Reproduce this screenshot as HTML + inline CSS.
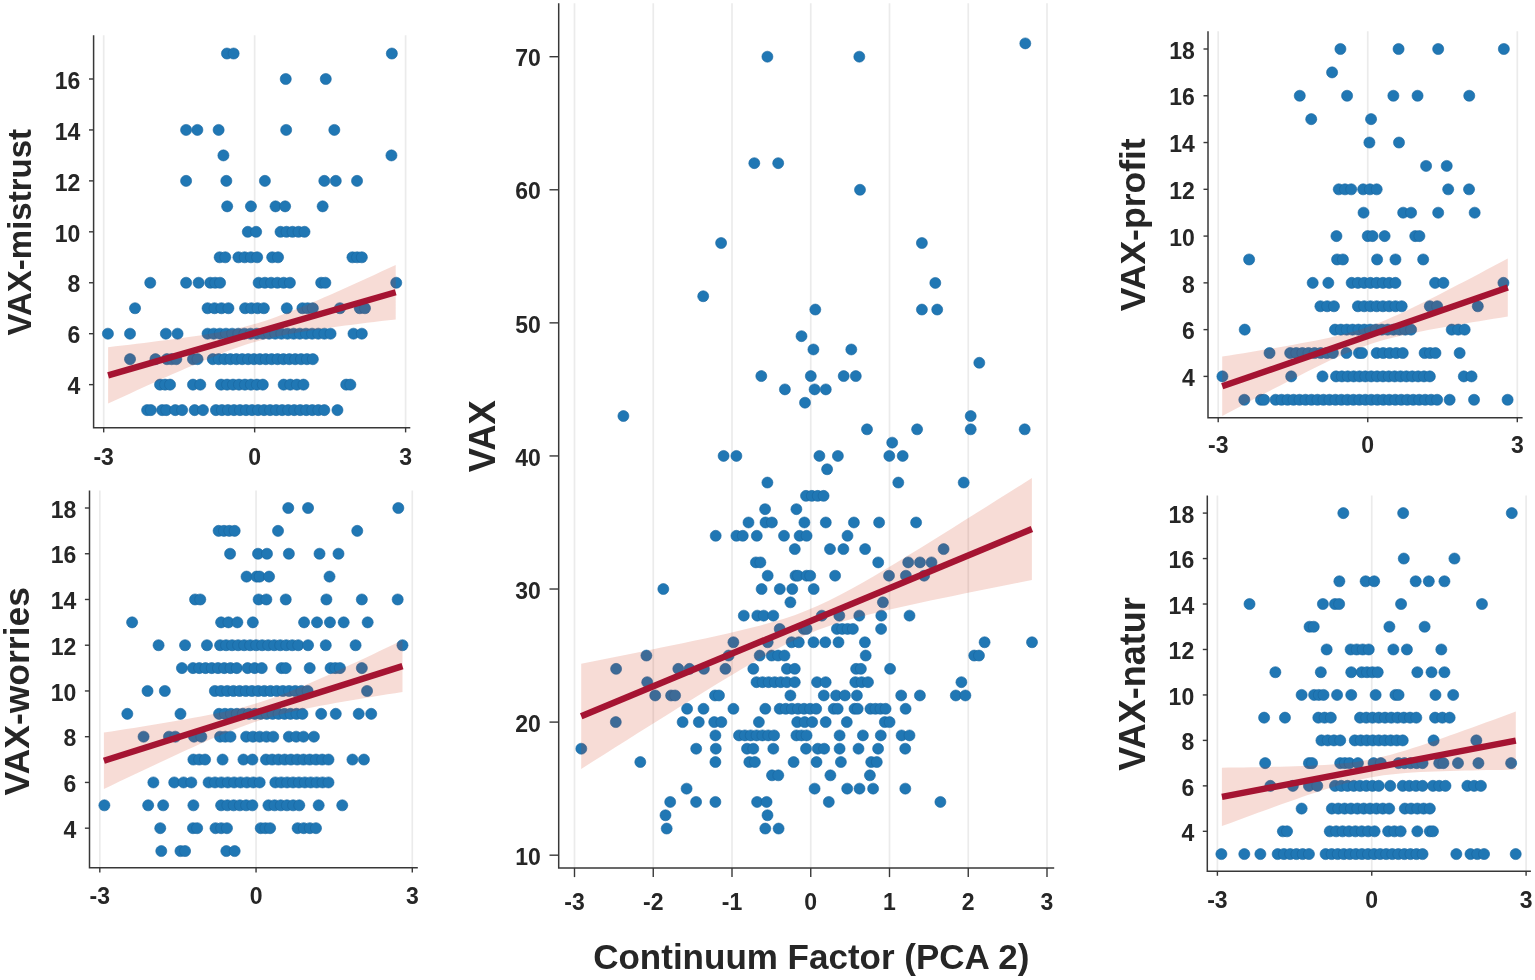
<!DOCTYPE html>
<html><head><meta charset="utf-8"><title>Continuum Factor scatter plots</title>
<style>html,body{margin:0;padding:0;background:#fff;}svg{display:block;}</style>
</head><body>
<svg width="1535" height="980" viewBox="0 0 1535 980">
<rect width="1535" height="980" fill="#fff"/>
<g font-family="'Liberation Sans', Arial, Helvetica, sans-serif" font-weight="bold" fill="#262626">

<line x1="103.69" y1="35.3" x2="103.69" y2="427.8" stroke="#ebebeb" stroke-width="1.7"/>
<line x1="254.65" y1="35.3" x2="254.65" y2="427.8" stroke="#ebebeb" stroke-width="1.7"/>
<line x1="405.61" y1="35.3" x2="405.61" y2="427.8" stroke="#ebebeb" stroke-width="1.7"/>
<g fill="#2077b4" stroke="#1a66a0" stroke-width="0.6">
<circle cx="226.96" cy="53.53" r="5.55"/>
<circle cx="233.63" cy="53.53" r="5.55"/>
<circle cx="391.85" cy="53.53" r="5.55"/>
<circle cx="285.74" cy="79" r="5.55"/>
<circle cx="325.77" cy="79" r="5.55"/>
<circle cx="186.1" cy="129.94" r="5.55"/>
<circle cx="197.36" cy="129.94" r="5.55"/>
<circle cx="218.62" cy="129.94" r="5.55"/>
<circle cx="286.16" cy="129.94" r="5.55"/>
<circle cx="334.32" cy="129.94" r="5.55"/>
<circle cx="223.41" cy="155.41" r="5.55"/>
<circle cx="391.44" cy="155.41" r="5.55"/>
<circle cx="186.1" cy="180.88" r="5.55"/>
<circle cx="226.33" cy="180.88" r="5.55"/>
<circle cx="264.9" cy="180.88" r="5.55"/>
<circle cx="324.31" cy="180.88" r="5.55"/>
<circle cx="335.78" cy="180.88" r="5.55"/>
<circle cx="357.04" cy="180.88" r="5.55"/>
<circle cx="227.17" cy="206.35" r="5.55"/>
<circle cx="250.93" cy="206.35" r="5.55"/>
<circle cx="275.53" cy="206.35" r="5.55"/>
<circle cx="285.12" cy="206.35" r="5.55"/>
<circle cx="322.64" cy="206.35" r="5.55"/>
<circle cx="247.8" cy="231.82" r="5.55"/>
<circle cx="256.14" cy="231.82" r="5.55"/>
<circle cx="280.53" cy="231.82" r="5.55"/>
<circle cx="286.53" cy="231.82" r="5.55"/>
<circle cx="292.52" cy="231.82" r="5.55"/>
<circle cx="298.51" cy="231.82" r="5.55"/>
<circle cx="304.51" cy="231.82" r="5.55"/>
<circle cx="219.66" cy="257.29" r="5.55"/>
<circle cx="225.29" cy="257.29" r="5.55"/>
<circle cx="238.42" cy="257.29" r="5.55"/>
<circle cx="244.68" cy="257.29" r="5.55"/>
<circle cx="250.93" cy="257.29" r="5.55"/>
<circle cx="257.18" cy="257.29" r="5.55"/>
<circle cx="272.19" cy="257.29" r="5.55"/>
<circle cx="278.03" cy="257.29" r="5.55"/>
<circle cx="352.45" cy="257.29" r="5.55"/>
<circle cx="357.14" cy="257.29" r="5.55"/>
<circle cx="361.83" cy="257.29" r="5.55"/>
<circle cx="150.24" cy="282.76" r="5.55"/>
<circle cx="186.1" cy="282.76" r="5.55"/>
<circle cx="198.61" cy="282.76" r="5.55"/>
<circle cx="210.28" cy="282.76" r="5.55"/>
<circle cx="215.18" cy="282.76" r="5.55"/>
<circle cx="220.08" cy="282.76" r="5.55"/>
<circle cx="258.64" cy="282.76" r="5.55"/>
<circle cx="264.9" cy="282.76" r="5.55"/>
<circle cx="271.15" cy="282.76" r="5.55"/>
<circle cx="277.41" cy="282.76" r="5.55"/>
<circle cx="283.66" cy="282.76" r="5.55"/>
<circle cx="289.91" cy="282.76" r="5.55"/>
<circle cx="321.18" cy="282.76" r="5.55"/>
<circle cx="325.35" cy="282.76" r="5.55"/>
<circle cx="396.23" cy="282.76" r="5.55"/>
<circle cx="135.03" cy="308.23" r="5.55"/>
<circle cx="207.57" cy="308.23" r="5.55"/>
<circle cx="214.52" cy="308.23" r="5.55"/>
<circle cx="221.47" cy="308.23" r="5.55"/>
<circle cx="228.42" cy="308.23" r="5.55"/>
<circle cx="245.09" cy="308.23" r="5.55"/>
<circle cx="251.35" cy="308.23" r="5.55"/>
<circle cx="257.6" cy="308.23" r="5.55"/>
<circle cx="263.86" cy="308.23" r="5.55"/>
<circle cx="286.79" cy="308.23" r="5.55"/>
<circle cx="302.42" cy="308.23" r="5.55"/>
<circle cx="307.63" cy="308.23" r="5.55"/>
<circle cx="312.84" cy="308.23" r="5.55"/>
<circle cx="339.94" cy="308.23" r="5.55"/>
<circle cx="359.75" cy="308.23" r="5.55"/>
<circle cx="364.96" cy="308.23" r="5.55"/>
<circle cx="107.92" cy="333.7" r="5.55"/>
<circle cx="130.02" cy="333.7" r="5.55"/>
<circle cx="165.88" cy="333.7" r="5.55"/>
<circle cx="177.55" cy="333.7" r="5.55"/>
<circle cx="207.57" cy="333.7" r="5.55"/>
<circle cx="213.72" cy="333.7" r="5.55"/>
<circle cx="219.87" cy="333.7" r="5.55"/>
<circle cx="226.02" cy="333.7" r="5.55"/>
<circle cx="232.17" cy="333.7" r="5.55"/>
<circle cx="238.32" cy="333.7" r="5.55"/>
<circle cx="244.47" cy="333.7" r="5.55"/>
<circle cx="250.62" cy="333.7" r="5.55"/>
<circle cx="256.77" cy="333.7" r="5.55"/>
<circle cx="262.92" cy="333.7" r="5.55"/>
<circle cx="269.07" cy="333.7" r="5.55"/>
<circle cx="275.22" cy="333.7" r="5.55"/>
<circle cx="281.37" cy="333.7" r="5.55"/>
<circle cx="287.52" cy="333.7" r="5.55"/>
<circle cx="293.67" cy="333.7" r="5.55"/>
<circle cx="299.82" cy="333.7" r="5.55"/>
<circle cx="305.97" cy="333.7" r="5.55"/>
<circle cx="312.11" cy="333.7" r="5.55"/>
<circle cx="318.26" cy="333.7" r="5.55"/>
<circle cx="324.41" cy="333.7" r="5.55"/>
<circle cx="330.56" cy="333.7" r="5.55"/>
<circle cx="353.49" cy="333.7" r="5.55"/>
<circle cx="361.83" cy="333.7" r="5.55"/>
<circle cx="130.02" cy="359.17" r="5.55"/>
<circle cx="155.45" cy="359.17" r="5.55"/>
<circle cx="166.92" cy="359.17" r="5.55"/>
<circle cx="171.61" cy="359.17" r="5.55"/>
<circle cx="176.3" cy="359.17" r="5.55"/>
<circle cx="192.98" cy="359.17" r="5.55"/>
<circle cx="197.56" cy="359.17" r="5.55"/>
<circle cx="212.78" cy="359.17" r="5.55"/>
<circle cx="218.67" cy="359.17" r="5.55"/>
<circle cx="224.55" cy="359.17" r="5.55"/>
<circle cx="230.44" cy="359.17" r="5.55"/>
<circle cx="236.33" cy="359.17" r="5.55"/>
<circle cx="242.21" cy="359.17" r="5.55"/>
<circle cx="248.1" cy="359.17" r="5.55"/>
<circle cx="253.98" cy="359.17" r="5.55"/>
<circle cx="259.87" cy="359.17" r="5.55"/>
<circle cx="265.76" cy="359.17" r="5.55"/>
<circle cx="271.64" cy="359.17" r="5.55"/>
<circle cx="277.53" cy="359.17" r="5.55"/>
<circle cx="283.41" cy="359.17" r="5.55"/>
<circle cx="289.3" cy="359.17" r="5.55"/>
<circle cx="295.19" cy="359.17" r="5.55"/>
<circle cx="301.07" cy="359.17" r="5.55"/>
<circle cx="306.96" cy="359.17" r="5.55"/>
<circle cx="312.84" cy="359.17" r="5.55"/>
<circle cx="160.04" cy="384.64" r="5.55"/>
<circle cx="165.04" cy="384.64" r="5.55"/>
<circle cx="170.05" cy="384.64" r="5.55"/>
<circle cx="192.98" cy="384.64" r="5.55"/>
<circle cx="200.27" cy="384.64" r="5.55"/>
<circle cx="221.12" cy="384.64" r="5.55"/>
<circle cx="227.08" cy="384.64" r="5.55"/>
<circle cx="233.03" cy="384.64" r="5.55"/>
<circle cx="238.99" cy="384.64" r="5.55"/>
<circle cx="244.94" cy="384.64" r="5.55"/>
<circle cx="250.9" cy="384.64" r="5.55"/>
<circle cx="256.86" cy="384.64" r="5.55"/>
<circle cx="262.81" cy="384.64" r="5.55"/>
<circle cx="283.66" cy="384.64" r="5.55"/>
<circle cx="290.26" cy="384.64" r="5.55"/>
<circle cx="296.86" cy="384.64" r="5.55"/>
<circle cx="303.46" cy="384.64" r="5.55"/>
<circle cx="346.2" cy="384.64" r="5.55"/>
<circle cx="350.37" cy="384.64" r="5.55"/>
<circle cx="147.12" cy="410.11" r="5.55"/>
<circle cx="150.87" cy="410.11" r="5.55"/>
<circle cx="162.13" cy="410.11" r="5.55"/>
<circle cx="166.29" cy="410.11" r="5.55"/>
<circle cx="175.26" cy="410.11" r="5.55"/>
<circle cx="182.14" cy="410.11" r="5.55"/>
<circle cx="194.65" cy="410.11" r="5.55"/>
<circle cx="202.98" cy="410.11" r="5.55"/>
<circle cx="215.91" cy="410.11" r="5.55"/>
<circle cx="221.93" cy="410.11" r="5.55"/>
<circle cx="227.95" cy="410.11" r="5.55"/>
<circle cx="233.98" cy="410.11" r="5.55"/>
<circle cx="240" cy="410.11" r="5.55"/>
<circle cx="246.02" cy="410.11" r="5.55"/>
<circle cx="252.04" cy="410.11" r="5.55"/>
<circle cx="258.06" cy="410.11" r="5.55"/>
<circle cx="264.09" cy="410.11" r="5.55"/>
<circle cx="270.11" cy="410.11" r="5.55"/>
<circle cx="276.13" cy="410.11" r="5.55"/>
<circle cx="282.15" cy="410.11" r="5.55"/>
<circle cx="288.18" cy="410.11" r="5.55"/>
<circle cx="294.2" cy="410.11" r="5.55"/>
<circle cx="300.22" cy="410.11" r="5.55"/>
<circle cx="306.24" cy="410.11" r="5.55"/>
<circle cx="312.27" cy="410.11" r="5.55"/>
<circle cx="318.29" cy="410.11" r="5.55"/>
<circle cx="324.31" cy="410.11" r="5.55"/>
<circle cx="337.44" cy="410.11" r="5.55"/>
</g>
<path d="M108.1,347.2 L115.29,346.36 L122.48,345.51 L129.67,344.65 L136.86,343.79 L144.05,342.91 L151.24,342.02 L158.43,341.11 L165.62,340.19 L172.81,339.24 L180,338.27 L187.19,337.27 L194.38,336.22 L201.57,335.13 L208.76,333.98 L215.95,332.75 L223.14,331.43 L230.33,330 L237.52,328.43 L244.71,326.69 L251.9,324.78 L259.09,322.69 L266.28,320.4 L273.47,317.94 L280.66,315.32 L287.85,312.57 L295.04,309.71 L302.23,306.76 L309.42,303.74 L316.61,300.67 L323.8,297.54 L330.99,294.38 L338.18,291.18 L345.37,287.97 L352.56,284.73 L359.75,281.47 L366.94,278.2 L374.13,274.91 L381.32,271.62 L388.51,268.31 L395.7,265 L395.7,319.4 L388.51,320.25 L381.32,321.1 L374.13,321.97 L366.94,322.84 L359.75,323.73 L352.56,324.63 L345.37,325.55 L338.18,326.5 L330.99,327.46 L323.8,328.46 L316.61,329.49 L309.42,330.58 L302.23,331.72 L295.04,332.93 L287.85,334.23 L280.66,335.64 L273.47,337.18 L266.28,338.88 L259.09,340.75 L251.9,342.82 L244.71,345.07 L237.52,347.49 L230.33,350.08 L223.14,352.81 L215.95,355.65 L208.76,358.58 L201.57,361.59 L194.38,364.66 L187.19,367.77 L180,370.93 L172.81,374.12 L165.62,377.33 L158.43,380.57 L151.24,383.82 L144.05,387.09 L136.86,390.37 L129.67,393.67 L122.48,396.97 L115.29,400.28 L108.1,403.6 Z" fill="rgb(205,50,10)" fill-opacity="0.17"/>
<line x1="108.1" y1="375.4" x2="395.7" y2="292.2" stroke="#a51432" stroke-width="6.4"/>
<path d="M93.6,35.3 V427.8 H410.3" fill="none" stroke="#383838" stroke-width="1.5"/>
<line x1="103.69" y1="427.8" x2="103.69" y2="432.4" stroke="#383838" stroke-width="1.4"/>
<text x="103.69" y="465.1" text-anchor="middle" font-size="23">-3</text>
<line x1="254.65" y1="427.8" x2="254.65" y2="432.4" stroke="#383838" stroke-width="1.4"/>
<text x="254.65" y="465.1" text-anchor="middle" font-size="23">0</text>
<line x1="405.61" y1="427.8" x2="405.61" y2="432.4" stroke="#383838" stroke-width="1.4"/>
<text x="405.61" y="465.1" text-anchor="middle" font-size="23">3</text>
<line x1="89" y1="384.64" x2="93.6" y2="384.64" stroke="#383838" stroke-width="1.4"/>
<text x="80.4" y="394.34" text-anchor="end" font-size="23">4</text>
<line x1="89" y1="333.7" x2="93.6" y2="333.7" stroke="#383838" stroke-width="1.4"/>
<text x="80.4" y="343.4" text-anchor="end" font-size="23">6</text>
<line x1="89" y1="282.76" x2="93.6" y2="282.76" stroke="#383838" stroke-width="1.4"/>
<text x="80.4" y="292.46" text-anchor="end" font-size="23">8</text>
<line x1="89" y1="231.82" x2="93.6" y2="231.82" stroke="#383838" stroke-width="1.4"/>
<text x="80.4" y="241.52" text-anchor="end" font-size="23">10</text>
<line x1="89" y1="180.88" x2="93.6" y2="180.88" stroke="#383838" stroke-width="1.4"/>
<text x="80.4" y="190.58" text-anchor="end" font-size="23">12</text>
<line x1="89" y1="129.94" x2="93.6" y2="129.94" stroke="#383838" stroke-width="1.4"/>
<text x="80.4" y="139.64" text-anchor="end" font-size="23">14</text>
<line x1="89" y1="79" x2="93.6" y2="79" stroke="#383838" stroke-width="1.4"/>
<text x="80.4" y="88.7" text-anchor="end" font-size="23">16</text>
<text transform="translate(31.4,232.3) rotate(-90)" text-anchor="middle" font-size="33.0">VAX-mistrust</text>
<line x1="99.81" y1="490.6" x2="99.81" y2="867.8" stroke="#ebebeb" stroke-width="1.7"/>
<line x1="256.05" y1="490.6" x2="256.05" y2="867.8" stroke="#ebebeb" stroke-width="1.7"/>
<line x1="412.29" y1="490.6" x2="412.29" y2="867.8" stroke="#ebebeb" stroke-width="1.7"/>
<g fill="#2077b4" stroke="#1a66a0" stroke-width="0.6">
<circle cx="288.25" cy="508" r="5.55"/>
<circle cx="308.05" cy="508" r="5.55"/>
<circle cx="398.31" cy="508" r="5.55"/>
<circle cx="218.62" cy="530.87" r="5.55"/>
<circle cx="223.97" cy="530.87" r="5.55"/>
<circle cx="229.32" cy="530.87" r="5.55"/>
<circle cx="234.67" cy="530.87" r="5.55"/>
<circle cx="278.03" cy="530.87" r="5.55"/>
<circle cx="357.25" cy="530.87" r="5.55"/>
<circle cx="230.08" cy="553.74" r="5.55"/>
<circle cx="258.02" cy="553.74" r="5.55"/>
<circle cx="266.98" cy="553.74" r="5.55"/>
<circle cx="288.87" cy="553.74" r="5.55"/>
<circle cx="319.52" cy="553.74" r="5.55"/>
<circle cx="338.49" cy="553.74" r="5.55"/>
<circle cx="246.55" cy="576.61" r="5.55"/>
<circle cx="256.56" cy="576.61" r="5.55"/>
<circle cx="259.69" cy="576.61" r="5.55"/>
<circle cx="269.07" cy="576.61" r="5.55"/>
<circle cx="329.52" cy="576.61" r="5.55"/>
<circle cx="195.06" cy="599.48" r="5.55"/>
<circle cx="200.27" cy="599.48" r="5.55"/>
<circle cx="258.64" cy="599.48" r="5.55"/>
<circle cx="266.36" cy="599.48" r="5.55"/>
<circle cx="285.74" cy="599.48" r="5.55"/>
<circle cx="326.39" cy="599.48" r="5.55"/>
<circle cx="361.83" cy="599.48" r="5.55"/>
<circle cx="397.69" cy="599.48" r="5.55"/>
<circle cx="132.11" cy="622.35" r="5.55"/>
<circle cx="221.12" cy="622.35" r="5.55"/>
<circle cx="228.42" cy="622.35" r="5.55"/>
<circle cx="237.38" cy="622.35" r="5.55"/>
<circle cx="252.81" cy="622.35" r="5.55"/>
<circle cx="304.09" cy="622.35" r="5.55"/>
<circle cx="317.01" cy="622.35" r="5.55"/>
<circle cx="329.94" cy="622.35" r="5.55"/>
<circle cx="343.7" cy="622.35" r="5.55"/>
<circle cx="367.67" cy="622.35" r="5.55"/>
<circle cx="158.58" cy="645.22" r="5.55"/>
<circle cx="185.06" cy="645.22" r="5.55"/>
<circle cx="206.94" cy="645.22" r="5.55"/>
<circle cx="220.08" cy="645.22" r="5.55"/>
<circle cx="226.09" cy="645.22" r="5.55"/>
<circle cx="232.1" cy="645.22" r="5.55"/>
<circle cx="238.12" cy="645.22" r="5.55"/>
<circle cx="244.13" cy="645.22" r="5.55"/>
<circle cx="250.15" cy="645.22" r="5.55"/>
<circle cx="256.16" cy="645.22" r="5.55"/>
<circle cx="262.17" cy="645.22" r="5.55"/>
<circle cx="268.19" cy="645.22" r="5.55"/>
<circle cx="274.2" cy="645.22" r="5.55"/>
<circle cx="280.21" cy="645.22" r="5.55"/>
<circle cx="286.23" cy="645.22" r="5.55"/>
<circle cx="292.24" cy="645.22" r="5.55"/>
<circle cx="298.25" cy="645.22" r="5.55"/>
<circle cx="308.05" cy="645.22" r="5.55"/>
<circle cx="325.77" cy="645.22" r="5.55"/>
<circle cx="355.58" cy="645.22" r="5.55"/>
<circle cx="402.48" cy="645.22" r="5.55"/>
<circle cx="181.93" cy="668.09" r="5.55"/>
<circle cx="192.98" cy="668.09" r="5.55"/>
<circle cx="199.23" cy="668.09" r="5.55"/>
<circle cx="205.49" cy="668.09" r="5.55"/>
<circle cx="211.74" cy="668.09" r="5.55"/>
<circle cx="217.99" cy="668.09" r="5.55"/>
<circle cx="224.25" cy="668.09" r="5.55"/>
<circle cx="230.5" cy="668.09" r="5.55"/>
<circle cx="236.76" cy="668.09" r="5.55"/>
<circle cx="247.6" cy="668.09" r="5.55"/>
<circle cx="254.68" cy="668.09" r="5.55"/>
<circle cx="261.77" cy="668.09" r="5.55"/>
<circle cx="281.57" cy="668.09" r="5.55"/>
<circle cx="285.74" cy="668.09" r="5.55"/>
<circle cx="309.72" cy="668.09" r="5.55"/>
<circle cx="330.56" cy="668.09" r="5.55"/>
<circle cx="335.25" cy="668.09" r="5.55"/>
<circle cx="339.94" cy="668.09" r="5.55"/>
<circle cx="361.83" cy="668.09" r="5.55"/>
<circle cx="147.53" cy="690.96" r="5.55"/>
<circle cx="164.84" cy="690.96" r="5.55"/>
<circle cx="214.87" cy="690.96" r="5.55"/>
<circle cx="221.05" cy="690.96" r="5.55"/>
<circle cx="227.24" cy="690.96" r="5.55"/>
<circle cx="233.42" cy="690.96" r="5.55"/>
<circle cx="239.6" cy="690.96" r="5.55"/>
<circle cx="245.79" cy="690.96" r="5.55"/>
<circle cx="251.97" cy="690.96" r="5.55"/>
<circle cx="258.16" cy="690.96" r="5.55"/>
<circle cx="264.34" cy="690.96" r="5.55"/>
<circle cx="270.53" cy="690.96" r="5.55"/>
<circle cx="276.71" cy="690.96" r="5.55"/>
<circle cx="282.9" cy="690.96" r="5.55"/>
<circle cx="289.08" cy="690.96" r="5.55"/>
<circle cx="295.26" cy="690.96" r="5.55"/>
<circle cx="301.45" cy="690.96" r="5.55"/>
<circle cx="307.63" cy="690.96" r="5.55"/>
<circle cx="367.05" cy="690.96" r="5.55"/>
<circle cx="127.31" cy="713.83" r="5.55"/>
<circle cx="180.47" cy="713.83" r="5.55"/>
<circle cx="219.04" cy="713.83" r="5.55"/>
<circle cx="224.99" cy="713.83" r="5.55"/>
<circle cx="230.95" cy="713.83" r="5.55"/>
<circle cx="236.9" cy="713.83" r="5.55"/>
<circle cx="242.86" cy="713.83" r="5.55"/>
<circle cx="248.82" cy="713.83" r="5.55"/>
<circle cx="254.77" cy="713.83" r="5.55"/>
<circle cx="260.73" cy="713.83" r="5.55"/>
<circle cx="266.68" cy="713.83" r="5.55"/>
<circle cx="272.64" cy="713.83" r="5.55"/>
<circle cx="278.6" cy="713.83" r="5.55"/>
<circle cx="284.55" cy="713.83" r="5.55"/>
<circle cx="290.51" cy="713.83" r="5.55"/>
<circle cx="296.47" cy="713.83" r="5.55"/>
<circle cx="302.42" cy="713.83" r="5.55"/>
<circle cx="321.18" cy="713.83" r="5.55"/>
<circle cx="335.78" cy="713.83" r="5.55"/>
<circle cx="358.71" cy="713.83" r="5.55"/>
<circle cx="371.21" cy="713.83" r="5.55"/>
<circle cx="143.57" cy="736.7" r="5.55"/>
<circle cx="169" cy="736.7" r="5.55"/>
<circle cx="175.26" cy="736.7" r="5.55"/>
<circle cx="194.02" cy="736.7" r="5.55"/>
<circle cx="201.32" cy="736.7" r="5.55"/>
<circle cx="220.08" cy="736.7" r="5.55"/>
<circle cx="225.29" cy="736.7" r="5.55"/>
<circle cx="230.5" cy="736.7" r="5.55"/>
<circle cx="246.14" cy="736.7" r="5.55"/>
<circle cx="252.91" cy="736.7" r="5.55"/>
<circle cx="259.69" cy="736.7" r="5.55"/>
<circle cx="266.46" cy="736.7" r="5.55"/>
<circle cx="273.24" cy="736.7" r="5.55"/>
<circle cx="288.87" cy="736.7" r="5.55"/>
<circle cx="296.17" cy="736.7" r="5.55"/>
<circle cx="303.46" cy="736.7" r="5.55"/>
<circle cx="313.89" cy="736.7" r="5.55"/>
<circle cx="193.39" cy="759.57" r="5.55"/>
<circle cx="199.23" cy="759.57" r="5.55"/>
<circle cx="205.07" cy="759.57" r="5.55"/>
<circle cx="222.58" cy="759.57" r="5.55"/>
<circle cx="243.43" cy="759.57" r="5.55"/>
<circle cx="252.39" cy="759.57" r="5.55"/>
<circle cx="265.94" cy="759.57" r="5.55"/>
<circle cx="272.19" cy="759.57" r="5.55"/>
<circle cx="278.45" cy="759.57" r="5.55"/>
<circle cx="284.7" cy="759.57" r="5.55"/>
<circle cx="290.96" cy="759.57" r="5.55"/>
<circle cx="297.21" cy="759.57" r="5.55"/>
<circle cx="303.46" cy="759.57" r="5.55"/>
<circle cx="309.72" cy="759.57" r="5.55"/>
<circle cx="315.97" cy="759.57" r="5.55"/>
<circle cx="322.23" cy="759.57" r="5.55"/>
<circle cx="328.48" cy="759.57" r="5.55"/>
<circle cx="352.45" cy="759.57" r="5.55"/>
<circle cx="363.92" cy="759.57" r="5.55"/>
<circle cx="153.37" cy="782.44" r="5.55"/>
<circle cx="174.22" cy="782.44" r="5.55"/>
<circle cx="183.6" cy="782.44" r="5.55"/>
<circle cx="191.31" cy="782.44" r="5.55"/>
<circle cx="208.61" cy="782.44" r="5.55"/>
<circle cx="215" cy="782.44" r="5.55"/>
<circle cx="221.38" cy="782.44" r="5.55"/>
<circle cx="227.77" cy="782.44" r="5.55"/>
<circle cx="234.15" cy="782.44" r="5.55"/>
<circle cx="240.53" cy="782.44" r="5.55"/>
<circle cx="246.92" cy="782.44" r="5.55"/>
<circle cx="253.3" cy="782.44" r="5.55"/>
<circle cx="259.69" cy="782.44" r="5.55"/>
<circle cx="275.32" cy="782.44" r="5.55"/>
<circle cx="281.23" cy="782.44" r="5.55"/>
<circle cx="287.13" cy="782.44" r="5.55"/>
<circle cx="293.04" cy="782.44" r="5.55"/>
<circle cx="298.95" cy="782.44" r="5.55"/>
<circle cx="304.85" cy="782.44" r="5.55"/>
<circle cx="310.76" cy="782.44" r="5.55"/>
<circle cx="316.67" cy="782.44" r="5.55"/>
<circle cx="322.57" cy="782.44" r="5.55"/>
<circle cx="328.48" cy="782.44" r="5.55"/>
<circle cx="104.38" cy="805.31" r="5.55"/>
<circle cx="148.16" cy="805.31" r="5.55"/>
<circle cx="163.17" cy="805.31" r="5.55"/>
<circle cx="193.39" cy="805.31" r="5.55"/>
<circle cx="221.12" cy="805.31" r="5.55"/>
<circle cx="227.37" cy="805.31" r="5.55"/>
<circle cx="233.63" cy="805.31" r="5.55"/>
<circle cx="239.88" cy="805.31" r="5.55"/>
<circle cx="246.14" cy="805.31" r="5.55"/>
<circle cx="252.39" cy="805.31" r="5.55"/>
<circle cx="268.44" cy="805.31" r="5.55"/>
<circle cx="274.61" cy="805.31" r="5.55"/>
<circle cx="280.78" cy="805.31" r="5.55"/>
<circle cx="286.95" cy="805.31" r="5.55"/>
<circle cx="293.12" cy="805.31" r="5.55"/>
<circle cx="299.29" cy="805.31" r="5.55"/>
<circle cx="318.68" cy="805.31" r="5.55"/>
<circle cx="342.24" cy="805.31" r="5.55"/>
<circle cx="160.25" cy="828.18" r="5.55"/>
<circle cx="192.98" cy="828.18" r="5.55"/>
<circle cx="197.15" cy="828.18" r="5.55"/>
<circle cx="215.49" cy="828.18" r="5.55"/>
<circle cx="221.22" cy="828.18" r="5.55"/>
<circle cx="226.96" cy="828.18" r="5.55"/>
<circle cx="260.73" cy="828.18" r="5.55"/>
<circle cx="265.42" cy="828.18" r="5.55"/>
<circle cx="270.11" cy="828.18" r="5.55"/>
<circle cx="297.63" cy="828.18" r="5.55"/>
<circle cx="303.74" cy="828.18" r="5.55"/>
<circle cx="309.86" cy="828.18" r="5.55"/>
<circle cx="315.97" cy="828.18" r="5.55"/>
<circle cx="161.29" cy="851.05" r="5.55"/>
<circle cx="180.47" cy="851.05" r="5.55"/>
<circle cx="185.06" cy="851.05" r="5.55"/>
<circle cx="226.33" cy="851.05" r="5.55"/>
<circle cx="234.67" cy="851.05" r="5.55"/>
</g>
<path d="M103.9,732.6 L111.37,731.44 L118.83,730.27 L126.3,729.09 L133.76,727.91 L141.23,726.71 L148.69,725.5 L156.16,724.28 L163.62,723.04 L171.09,721.79 L178.55,720.5 L186.02,719.19 L193.48,717.85 L200.94,716.46 L208.41,715.02 L215.88,713.51 L223.34,711.92 L230.81,710.23 L238.27,708.43 L245.74,706.48 L253.2,704.37 L260.67,702.08 L268.13,699.62 L275.6,696.98 L283.06,694.18 L290.53,691.24 L297.99,688.18 L305.46,685.03 L312.92,681.79 L320.39,678.5 L327.85,675.15 L335.32,671.75 L342.78,668.33 L350.25,664.87 L357.71,661.39 L365.17,657.89 L372.64,654.38 L380.11,650.85 L387.57,647.31 L395.04,643.76 L402.5,640.2 L402.5,692 L395.04,693.18 L387.57,694.36 L380.11,695.55 L372.64,696.76 L365.17,697.98 L357.71,699.22 L350.25,700.47 L342.78,701.75 L335.32,703.06 L327.85,704.4 L320.39,705.79 L312.92,707.23 L305.46,708.73 L297.99,710.31 L290.53,711.99 L283.06,713.78 L275.6,715.72 L268.13,717.81 L260.67,720.08 L253.2,722.53 L245.74,725.16 L238.27,727.94 L230.81,730.87 L223.34,733.92 L215.88,737.06 L208.41,740.29 L200.94,743.59 L193.48,746.93 L186.02,750.32 L178.55,753.75 L171.09,757.2 L163.62,760.68 L156.16,764.17 L148.69,767.69 L141.23,771.21 L133.76,774.75 L126.3,778.3 L118.83,781.86 L111.37,785.43 L103.9,789 Z" fill="rgb(205,50,10)" fill-opacity="0.17"/>
<line x1="103.9" y1="760.8" x2="402.5" y2="666.1" stroke="#a51432" stroke-width="6.4"/>
<path d="M89.5,490.6 V867.8 H417.8" fill="none" stroke="#383838" stroke-width="1.5"/>
<line x1="99.81" y1="867.8" x2="99.81" y2="872.4" stroke="#383838" stroke-width="1.4"/>
<text x="99.81" y="904.1" text-anchor="middle" font-size="23">-3</text>
<line x1="256.05" y1="867.8" x2="256.05" y2="872.4" stroke="#383838" stroke-width="1.4"/>
<text x="256.05" y="904.1" text-anchor="middle" font-size="23">0</text>
<line x1="412.29" y1="867.8" x2="412.29" y2="872.4" stroke="#383838" stroke-width="1.4"/>
<text x="412.29" y="904.1" text-anchor="middle" font-size="23">3</text>
<line x1="84.9" y1="828.18" x2="89.5" y2="828.18" stroke="#383838" stroke-width="1.4"/>
<text x="76.3" y="837.88" text-anchor="end" font-size="23">4</text>
<line x1="84.9" y1="782.44" x2="89.5" y2="782.44" stroke="#383838" stroke-width="1.4"/>
<text x="76.3" y="792.14" text-anchor="end" font-size="23">6</text>
<line x1="84.9" y1="736.7" x2="89.5" y2="736.7" stroke="#383838" stroke-width="1.4"/>
<text x="76.3" y="746.4" text-anchor="end" font-size="23">8</text>
<line x1="84.9" y1="690.96" x2="89.5" y2="690.96" stroke="#383838" stroke-width="1.4"/>
<text x="76.3" y="700.66" text-anchor="end" font-size="23">10</text>
<line x1="84.9" y1="645.22" x2="89.5" y2="645.22" stroke="#383838" stroke-width="1.4"/>
<text x="76.3" y="654.92" text-anchor="end" font-size="23">12</text>
<line x1="84.9" y1="599.48" x2="89.5" y2="599.48" stroke="#383838" stroke-width="1.4"/>
<text x="76.3" y="609.18" text-anchor="end" font-size="23">14</text>
<line x1="84.9" y1="553.74" x2="89.5" y2="553.74" stroke="#383838" stroke-width="1.4"/>
<text x="76.3" y="563.44" text-anchor="end" font-size="23">16</text>
<line x1="84.9" y1="508" x2="89.5" y2="508" stroke="#383838" stroke-width="1.4"/>
<text x="76.3" y="517.7" text-anchor="end" font-size="23">18</text>
<text transform="translate(28.8,691.2) rotate(-90)" text-anchor="middle" font-size="35.5">VAX-worries</text>
<line x1="574.5" y1="3.3" x2="574.5" y2="867.9" stroke="#ebebeb" stroke-width="1.7"/>
<line x1="653.25" y1="3.3" x2="653.25" y2="867.9" stroke="#ebebeb" stroke-width="1.7"/>
<line x1="732" y1="3.3" x2="732" y2="867.9" stroke="#ebebeb" stroke-width="1.7"/>
<line x1="810.75" y1="3.3" x2="810.75" y2="867.9" stroke="#ebebeb" stroke-width="1.7"/>
<line x1="889.5" y1="3.3" x2="889.5" y2="867.9" stroke="#ebebeb" stroke-width="1.7"/>
<line x1="968.25" y1="3.3" x2="968.25" y2="867.9" stroke="#ebebeb" stroke-width="1.7"/>
<line x1="1047" y1="3.3" x2="1047" y2="867.9" stroke="#ebebeb" stroke-width="1.7"/>
<g fill="#2077b4" stroke="#1a66a0" stroke-width="0.6">
<circle cx="1025.3" cy="43.39" r="5.5"/>
<circle cx="767.4" cy="56.7" r="5.5"/>
<circle cx="859.3" cy="56.7" r="5.5"/>
<circle cx="754.3" cy="163.16" r="5.5"/>
<circle cx="778.2" cy="163.16" r="5.5"/>
<circle cx="860" cy="189.78" r="5.5"/>
<circle cx="721.1" cy="243.01" r="5.5"/>
<circle cx="921.9" cy="243.01" r="5.5"/>
<circle cx="935.3" cy="282.94" r="5.5"/>
<circle cx="703.2" cy="296.24" r="5.5"/>
<circle cx="815.3" cy="309.55" r="5.5"/>
<circle cx="921.9" cy="309.55" r="5.5"/>
<circle cx="937.2" cy="309.55" r="5.5"/>
<circle cx="801.5" cy="336.17" r="5.5"/>
<circle cx="813.4" cy="349.48" r="5.5"/>
<circle cx="851.3" cy="349.48" r="5.5"/>
<circle cx="979.3" cy="362.78" r="5.5"/>
<circle cx="761.3" cy="376.09" r="5.5"/>
<circle cx="810.8" cy="376.09" r="5.5"/>
<circle cx="843.7" cy="376.09" r="5.5"/>
<circle cx="855.8" cy="376.09" r="5.5"/>
<circle cx="784.9" cy="389.4" r="5.5"/>
<circle cx="814.6" cy="389.4" r="5.5"/>
<circle cx="825.8" cy="389.4" r="5.5"/>
<circle cx="805" cy="402.71" r="5.5"/>
<circle cx="623.4" cy="416.02" r="5.5"/>
<circle cx="970.7" cy="416.02" r="5.5"/>
<circle cx="867" cy="429.32" r="5.5"/>
<circle cx="917.1" cy="429.32" r="5.5"/>
<circle cx="970.7" cy="429.32" r="5.5"/>
<circle cx="1024.7" cy="429.32" r="5.5"/>
<circle cx="892.2" cy="442.63" r="5.5"/>
<circle cx="723.6" cy="455.94" r="5.5"/>
<circle cx="736.4" cy="455.94" r="5.5"/>
<circle cx="819.4" cy="455.94" r="5.5"/>
<circle cx="837.9" cy="455.94" r="5.5"/>
<circle cx="889.3" cy="455.94" r="5.5"/>
<circle cx="902.7" cy="455.94" r="5.5"/>
<circle cx="827.1" cy="469.25" r="5.5"/>
<circle cx="767.4" cy="482.56" r="5.5"/>
<circle cx="898.3" cy="482.56" r="5.5"/>
<circle cx="963.7" cy="482.56" r="5.5"/>
<circle cx="806" cy="495.86" r="5.5"/>
<circle cx="811.87" cy="495.86" r="5.5"/>
<circle cx="817.73" cy="495.86" r="5.5"/>
<circle cx="823.6" cy="495.86" r="5.5"/>
<circle cx="765.1" cy="509.17" r="5.5"/>
<circle cx="796.4" cy="509.17" r="5.5"/>
<circle cx="748.5" cy="522.48" r="5.5"/>
<circle cx="765.5" cy="522.48" r="5.5"/>
<circle cx="771.9" cy="522.48" r="5.5"/>
<circle cx="804.4" cy="522.48" r="5.5"/>
<circle cx="825.8" cy="522.48" r="5.5"/>
<circle cx="853.9" cy="522.48" r="5.5"/>
<circle cx="879.1" cy="522.48" r="5.5"/>
<circle cx="916.1" cy="522.48" r="5.5"/>
<circle cx="715.7" cy="535.79" r="5.5"/>
<circle cx="736.4" cy="535.79" r="5.5"/>
<circle cx="742.8" cy="535.79" r="5.5"/>
<circle cx="756.8" cy="535.79" r="5.5"/>
<circle cx="784" cy="535.79" r="5.5"/>
<circle cx="799.6" cy="535.79" r="5.5"/>
<circle cx="806.6" cy="535.79" r="5.5"/>
<circle cx="847.5" cy="535.79" r="5.5"/>
<circle cx="794.8" cy="549.1" r="5.5"/>
<circle cx="830" cy="549.1" r="5.5"/>
<circle cx="843.4" cy="549.1" r="5.5"/>
<circle cx="865.1" cy="549.1" r="5.5"/>
<circle cx="943.6" cy="549.1" r="5.5"/>
<circle cx="755.9" cy="562.4" r="5.5"/>
<circle cx="760.4" cy="562.4" r="5.5"/>
<circle cx="878.2" cy="562.4" r="5.5"/>
<circle cx="908.2" cy="562.4" r="5.5"/>
<circle cx="920" cy="562.4" r="5.5"/>
<circle cx="931.5" cy="562.4" r="5.5"/>
<circle cx="767.7" cy="575.71" r="5.5"/>
<circle cx="795.5" cy="575.71" r="5.5"/>
<circle cx="798" cy="575.71" r="5.5"/>
<circle cx="806.6" cy="575.71" r="5.5"/>
<circle cx="810.2" cy="575.71" r="5.5"/>
<circle cx="835.1" cy="575.71" r="5.5"/>
<circle cx="889" cy="575.71" r="5.5"/>
<circle cx="905.9" cy="575.71" r="5.5"/>
<circle cx="924.1" cy="575.71" r="5.5"/>
<circle cx="663.3" cy="589.02" r="5.5"/>
<circle cx="761.6" cy="589.02" r="5.5"/>
<circle cx="779.8" cy="589.02" r="5.5"/>
<circle cx="792.3" cy="589.02" r="5.5"/>
<circle cx="813.7" cy="589.02" r="5.5"/>
<circle cx="790.4" cy="602.33" r="5.5"/>
<circle cx="882.9" cy="602.33" r="5.5"/>
<circle cx="743.8" cy="615.64" r="5.5"/>
<circle cx="757.3" cy="615.64" r="5.5"/>
<circle cx="763.7" cy="615.64" r="5.5"/>
<circle cx="773.3" cy="615.64" r="5.5"/>
<circle cx="821.8" cy="615.64" r="5.5"/>
<circle cx="839.3" cy="615.64" r="5.5"/>
<circle cx="859.3" cy="615.64" r="5.5"/>
<circle cx="881.3" cy="615.64" r="5.5"/>
<circle cx="909.5" cy="615.64" r="5.5"/>
<circle cx="779.7" cy="628.94" r="5.5"/>
<circle cx="803.6" cy="628.94" r="5.5"/>
<circle cx="806.6" cy="628.94" r="5.5"/>
<circle cx="836.9" cy="628.94" r="5.5"/>
<circle cx="842.23" cy="628.94" r="5.5"/>
<circle cx="847.57" cy="628.94" r="5.5"/>
<circle cx="852.9" cy="628.94" r="5.5"/>
<circle cx="881.1" cy="628.94" r="5.5"/>
<circle cx="733.4" cy="642.25" r="5.5"/>
<circle cx="767.7" cy="642.25" r="5.5"/>
<circle cx="791.6" cy="642.25" r="5.5"/>
<circle cx="798.8" cy="642.25" r="5.5"/>
<circle cx="813.5" cy="642.25" r="5.5"/>
<circle cx="825.3" cy="642.25" r="5.5"/>
<circle cx="838.5" cy="642.25" r="5.5"/>
<circle cx="864.9" cy="642.25" r="5.5"/>
<circle cx="984.6" cy="642.25" r="5.5"/>
<circle cx="1032" cy="642.25" r="5.5"/>
<circle cx="646.4" cy="655.56" r="5.5"/>
<circle cx="728.6" cy="655.56" r="5.5"/>
<circle cx="759.7" cy="655.56" r="5.5"/>
<circle cx="771.7" cy="655.56" r="5.5"/>
<circle cx="778.1" cy="655.56" r="5.5"/>
<circle cx="784.5" cy="655.56" r="5.5"/>
<circle cx="865.7" cy="655.56" r="5.5"/>
<circle cx="974.2" cy="655.56" r="5.5"/>
<circle cx="979" cy="655.56" r="5.5"/>
<circle cx="616.1" cy="668.87" r="5.5"/>
<circle cx="678.3" cy="668.87" r="5.5"/>
<circle cx="689.5" cy="668.87" r="5.5"/>
<circle cx="703.9" cy="668.87" r="5.5"/>
<circle cx="725.4" cy="668.87" r="5.5"/>
<circle cx="753.3" cy="668.87" r="5.5"/>
<circle cx="786.9" cy="668.87" r="5.5"/>
<circle cx="794.8" cy="668.87" r="5.5"/>
<circle cx="856.1" cy="668.87" r="5.5"/>
<circle cx="860.9" cy="668.87" r="5.5"/>
<circle cx="890.1" cy="668.87" r="5.5"/>
<circle cx="647.2" cy="682.18" r="5.5"/>
<circle cx="756.5" cy="682.18" r="5.5"/>
<circle cx="762.58" cy="682.18" r="5.5"/>
<circle cx="768.66" cy="682.18" r="5.5"/>
<circle cx="774.74" cy="682.18" r="5.5"/>
<circle cx="780.82" cy="682.18" r="5.5"/>
<circle cx="786.9" cy="682.18" r="5.5"/>
<circle cx="794.8" cy="682.18" r="5.5"/>
<circle cx="817" cy="682.18" r="5.5"/>
<circle cx="825.7" cy="682.18" r="5.5"/>
<circle cx="855.3" cy="682.18" r="5.5"/>
<circle cx="861.65" cy="682.18" r="5.5"/>
<circle cx="868" cy="682.18" r="5.5"/>
<circle cx="961.4" cy="682.18" r="5.5"/>
<circle cx="655.2" cy="695.48" r="5.5"/>
<circle cx="671.1" cy="695.48" r="5.5"/>
<circle cx="675.1" cy="695.48" r="5.5"/>
<circle cx="715" cy="695.48" r="5.5"/>
<circle cx="719" cy="695.48" r="5.5"/>
<circle cx="790.4" cy="695.48" r="5.5"/>
<circle cx="823.8" cy="695.48" r="5.5"/>
<circle cx="836.1" cy="695.48" r="5.5"/>
<circle cx="844.9" cy="695.48" r="5.5"/>
<circle cx="856.9" cy="695.48" r="5.5"/>
<circle cx="901.2" cy="695.48" r="5.5"/>
<circle cx="919.9" cy="695.48" r="5.5"/>
<circle cx="955.8" cy="695.48" r="5.5"/>
<circle cx="965.4" cy="695.48" r="5.5"/>
<circle cx="687.1" cy="708.79" r="5.5"/>
<circle cx="703.5" cy="708.79" r="5.5"/>
<circle cx="733.4" cy="708.79" r="5.5"/>
<circle cx="765.3" cy="708.79" r="5.5"/>
<circle cx="779.7" cy="708.79" r="5.5"/>
<circle cx="785.78" cy="708.79" r="5.5"/>
<circle cx="791.87" cy="708.79" r="5.5"/>
<circle cx="797.95" cy="708.79" r="5.5"/>
<circle cx="804.03" cy="708.79" r="5.5"/>
<circle cx="810.12" cy="708.79" r="5.5"/>
<circle cx="816.2" cy="708.79" r="5.5"/>
<circle cx="833.7" cy="708.79" r="5.5"/>
<circle cx="837.7" cy="708.79" r="5.5"/>
<circle cx="854.5" cy="708.79" r="5.5"/>
<circle cx="857.7" cy="708.79" r="5.5"/>
<circle cx="870.4" cy="708.79" r="5.5"/>
<circle cx="875.47" cy="708.79" r="5.5"/>
<circle cx="880.53" cy="708.79" r="5.5"/>
<circle cx="885.6" cy="708.79" r="5.5"/>
<circle cx="905.6" cy="708.79" r="5.5"/>
<circle cx="615.8" cy="722.1" r="5.5"/>
<circle cx="682.6" cy="722.1" r="5.5"/>
<circle cx="698.8" cy="722.1" r="5.5"/>
<circle cx="714.2" cy="722.1" r="5.5"/>
<circle cx="721.4" cy="722.1" r="5.5"/>
<circle cx="758.9" cy="722.1" r="5.5"/>
<circle cx="797.2" cy="722.1" r="5.5"/>
<circle cx="804.7" cy="722.1" r="5.5"/>
<circle cx="812.2" cy="722.1" r="5.5"/>
<circle cx="825.7" cy="722.1" r="5.5"/>
<circle cx="846.8" cy="722.1" r="5.5"/>
<circle cx="884.8" cy="722.1" r="5.5"/>
<circle cx="889.6" cy="722.1" r="5.5"/>
<circle cx="715.4" cy="735.41" r="5.5"/>
<circle cx="739" cy="735.41" r="5.5"/>
<circle cx="744.85" cy="735.41" r="5.5"/>
<circle cx="750.7" cy="735.41" r="5.5"/>
<circle cx="756.55" cy="735.41" r="5.5"/>
<circle cx="762.4" cy="735.41" r="5.5"/>
<circle cx="768.25" cy="735.41" r="5.5"/>
<circle cx="774.1" cy="735.41" r="5.5"/>
<circle cx="796.4" cy="735.41" r="5.5"/>
<circle cx="801.5" cy="735.41" r="5.5"/>
<circle cx="806.6" cy="735.41" r="5.5"/>
<circle cx="839.6" cy="735.41" r="5.5"/>
<circle cx="862.9" cy="735.41" r="5.5"/>
<circle cx="880.8" cy="735.41" r="5.5"/>
<circle cx="901.6" cy="735.41" r="5.5"/>
<circle cx="909.5" cy="735.41" r="5.5"/>
<circle cx="581.3" cy="748.72" r="5.5"/>
<circle cx="696.2" cy="748.72" r="5.5"/>
<circle cx="715.8" cy="748.72" r="5.5"/>
<circle cx="747" cy="748.72" r="5.5"/>
<circle cx="753.3" cy="748.72" r="5.5"/>
<circle cx="773.3" cy="748.72" r="5.5"/>
<circle cx="806" cy="748.72" r="5.5"/>
<circle cx="817.8" cy="748.72" r="5.5"/>
<circle cx="824.2" cy="748.72" r="5.5"/>
<circle cx="839.6" cy="748.72" r="5.5"/>
<circle cx="858.5" cy="748.72" r="5.5"/>
<circle cx="878.1" cy="748.72" r="5.5"/>
<circle cx="905.2" cy="748.72" r="5.5"/>
<circle cx="640.3" cy="762.02" r="5.5"/>
<circle cx="715.4" cy="762.02" r="5.5"/>
<circle cx="749.3" cy="762.02" r="5.5"/>
<circle cx="754.9" cy="762.02" r="5.5"/>
<circle cx="793.6" cy="762.02" r="5.5"/>
<circle cx="816.5" cy="762.02" r="5.5"/>
<circle cx="840.9" cy="762.02" r="5.5"/>
<circle cx="871.2" cy="762.02" r="5.5"/>
<circle cx="876.8" cy="762.02" r="5.5"/>
<circle cx="772" cy="775.33" r="5.5"/>
<circle cx="778.3" cy="775.33" r="5.5"/>
<circle cx="830.4" cy="775.33" r="5.5"/>
<circle cx="869.9" cy="775.33" r="5.5"/>
<circle cx="686.6" cy="788.64" r="5.5"/>
<circle cx="814.6" cy="788.64" r="5.5"/>
<circle cx="847.2" cy="788.64" r="5.5"/>
<circle cx="859.5" cy="788.64" r="5.5"/>
<circle cx="873.1" cy="788.64" r="5.5"/>
<circle cx="905.3" cy="788.64" r="5.5"/>
<circle cx="670.2" cy="801.95" r="5.5"/>
<circle cx="696.1" cy="801.95" r="5.5"/>
<circle cx="715.4" cy="801.95" r="5.5"/>
<circle cx="757.1" cy="801.95" r="5.5"/>
<circle cx="766.6" cy="801.95" r="5.5"/>
<circle cx="828.8" cy="801.95" r="5.5"/>
<circle cx="940.4" cy="801.95" r="5.5"/>
<circle cx="665.5" cy="815.26" r="5.5"/>
<circle cx="767.5" cy="815.26" r="5.5"/>
<circle cx="666.7" cy="828.56" r="5.5"/>
<circle cx="765.3" cy="828.56" r="5.5"/>
<circle cx="778.6" cy="828.56" r="5.5"/>
</g>
<path d="M581.2,663.7 L592.47,661.47 L603.74,659.23 L615,656.98 L626.27,654.72 L637.54,652.45 L648.81,650.17 L660.07,647.87 L671.34,645.55 L682.61,643.2 L693.88,640.82 L705.14,638.41 L716.41,635.94 L727.68,633.41 L738.95,630.79 L750.21,628.06 L761.48,625.17 L772.75,622.06 L784.02,618.66 L795.28,614.88 L806.55,610.62 L817.82,605.85 L829.09,600.57 L840.35,594.84 L851.62,588.77 L862.89,582.43 L874.16,575.89 L885.42,569.22 L896.69,562.43 L907.96,555.58 L919.23,548.66 L930.49,541.69 L941.76,534.69 L953.03,527.67 L964.3,520.61 L975.56,513.54 L986.83,506.46 L998.1,499.36 L1009.37,492.25 L1020.63,485.13 L1031.9,478 L1031.9,580 L1020.63,582.24 L1009.37,584.48 L998.1,586.74 L986.83,589 L975.56,591.28 L964.3,593.58 L953.03,595.89 L941.76,598.23 L930.49,600.59 L919.23,602.99 L907.96,605.44 L896.69,607.95 L885.42,610.53 L874.16,613.22 L862.89,616.05 L851.62,619.07 L840.35,622.36 L829.09,626 L817.82,630.09 L806.55,634.68 L795.28,639.79 L784.02,645.37 L772.75,651.33 L761.48,657.59 L750.21,664.07 L738.95,670.7 L727.68,677.44 L716.41,684.28 L705.14,691.18 L693.88,698.13 L682.61,705.12 L671.34,712.13 L660.07,719.18 L648.81,726.24 L637.54,733.32 L626.27,740.42 L615,747.53 L603.74,754.64 L592.47,761.77 L581.2,768.9 Z" fill="rgb(205,50,10)" fill-opacity="0.17"/>
<line x1="581.2" y1="716.3" x2="1031.9" y2="529" stroke="#a51432" stroke-width="6.4"/>
<path d="M558.7,3.3 V867.9 H1054.2" fill="none" stroke="#383838" stroke-width="1.5"/>
<line x1="574.5" y1="867.9" x2="574.5" y2="877.1" stroke="#383838" stroke-width="1.4"/>
<text x="574.5" y="909.5" text-anchor="middle" font-size="23">-3</text>
<line x1="653.25" y1="867.9" x2="653.25" y2="877.1" stroke="#383838" stroke-width="1.4"/>
<text x="653.25" y="909.5" text-anchor="middle" font-size="23">-2</text>
<line x1="732" y1="867.9" x2="732" y2="877.1" stroke="#383838" stroke-width="1.4"/>
<text x="732" y="909.5" text-anchor="middle" font-size="23">-1</text>
<line x1="810.75" y1="867.9" x2="810.75" y2="877.1" stroke="#383838" stroke-width="1.4"/>
<text x="810.75" y="909.5" text-anchor="middle" font-size="23">0</text>
<line x1="889.5" y1="867.9" x2="889.5" y2="877.1" stroke="#383838" stroke-width="1.4"/>
<text x="889.5" y="909.5" text-anchor="middle" font-size="23">1</text>
<line x1="968.25" y1="867.9" x2="968.25" y2="877.1" stroke="#383838" stroke-width="1.4"/>
<text x="968.25" y="909.5" text-anchor="middle" font-size="23">2</text>
<line x1="1047" y1="867.9" x2="1047" y2="877.1" stroke="#383838" stroke-width="1.4"/>
<text x="1047" y="909.5" text-anchor="middle" font-size="23">3</text>
<line x1="549.5" y1="855.18" x2="558.7" y2="855.18" stroke="#383838" stroke-width="1.4"/>
<text x="540.9" y="864.88" text-anchor="end" font-size="23">10</text>
<line x1="549.5" y1="722.1" x2="558.7" y2="722.1" stroke="#383838" stroke-width="1.4"/>
<text x="540.9" y="731.8" text-anchor="end" font-size="23">20</text>
<line x1="549.5" y1="589.02" x2="558.7" y2="589.02" stroke="#383838" stroke-width="1.4"/>
<text x="540.9" y="598.72" text-anchor="end" font-size="23">30</text>
<line x1="549.5" y1="455.94" x2="558.7" y2="455.94" stroke="#383838" stroke-width="1.4"/>
<text x="540.9" y="465.64" text-anchor="end" font-size="23">40</text>
<line x1="549.5" y1="322.86" x2="558.7" y2="322.86" stroke="#383838" stroke-width="1.4"/>
<text x="540.9" y="332.56" text-anchor="end" font-size="23">50</text>
<line x1="549.5" y1="189.78" x2="558.7" y2="189.78" stroke="#383838" stroke-width="1.4"/>
<text x="540.9" y="199.48" text-anchor="end" font-size="23">60</text>
<line x1="549.5" y1="56.7" x2="558.7" y2="56.7" stroke="#383838" stroke-width="1.4"/>
<text x="540.9" y="66.4" text-anchor="end" font-size="23">70</text>
<text transform="translate(494.5,436.3) rotate(-90)" text-anchor="middle" font-size="36.3">VAX</text>
<line x1="1218.2" y1="31.2" x2="1218.2" y2="417.7" stroke="#ebebeb" stroke-width="1.7"/>
<line x1="1367.75" y1="31.2" x2="1367.75" y2="417.7" stroke="#ebebeb" stroke-width="1.7"/>
<line x1="1517.3" y1="31.2" x2="1517.3" y2="417.7" stroke="#ebebeb" stroke-width="1.7"/>
<g fill="#2077b4" stroke="#1a66a0" stroke-width="0.6">
<circle cx="1340.41" cy="49" r="5.55"/>
<circle cx="1398.57" cy="49" r="5.55"/>
<circle cx="1438.18" cy="49" r="5.55"/>
<circle cx="1503.85" cy="49" r="5.55"/>
<circle cx="1332.08" cy="72.39" r="5.55"/>
<circle cx="1299.76" cy="95.77" r="5.55"/>
<circle cx="1347.08" cy="95.77" r="5.55"/>
<circle cx="1393.36" cy="95.77" r="5.55"/>
<circle cx="1417.55" cy="95.77" r="5.55"/>
<circle cx="1469.24" cy="95.77" r="5.55"/>
<circle cx="1311.23" cy="119.16" r="5.55"/>
<circle cx="1371.06" cy="119.16" r="5.55"/>
<circle cx="1369.39" cy="142.54" r="5.55"/>
<circle cx="1398.99" cy="142.54" r="5.55"/>
<circle cx="1426.09" cy="165.93" r="5.55"/>
<circle cx="1446.73" cy="165.93" r="5.55"/>
<circle cx="1338.75" cy="189.32" r="5.55"/>
<circle cx="1345" cy="189.32" r="5.55"/>
<circle cx="1351.25" cy="189.32" r="5.55"/>
<circle cx="1363.14" cy="189.32" r="5.55"/>
<circle cx="1369.91" cy="189.32" r="5.55"/>
<circle cx="1376.69" cy="189.32" r="5.55"/>
<circle cx="1448.19" cy="189.32" r="5.55"/>
<circle cx="1469.04" cy="189.32" r="5.55"/>
<circle cx="1363.55" cy="212.7" r="5.55"/>
<circle cx="1403.16" cy="212.7" r="5.55"/>
<circle cx="1411.08" cy="212.7" r="5.55"/>
<circle cx="1438.18" cy="212.7" r="5.55"/>
<circle cx="1474.66" cy="212.7" r="5.55"/>
<circle cx="1336.45" cy="236.09" r="5.55"/>
<circle cx="1367.72" cy="236.09" r="5.55"/>
<circle cx="1372.52" cy="236.09" r="5.55"/>
<circle cx="1384.61" cy="236.09" r="5.55"/>
<circle cx="1415.25" cy="236.09" r="5.55"/>
<circle cx="1419.42" cy="236.09" r="5.55"/>
<circle cx="1249.11" cy="259.47" r="5.55"/>
<circle cx="1337.08" cy="259.47" r="5.55"/>
<circle cx="1342.92" cy="259.47" r="5.55"/>
<circle cx="1377.1" cy="259.47" r="5.55"/>
<circle cx="1395.45" cy="259.47" r="5.55"/>
<circle cx="1423.17" cy="259.47" r="5.55"/>
<circle cx="1312.69" cy="282.86" r="5.55"/>
<circle cx="1328.32" cy="282.86" r="5.55"/>
<circle cx="1351.67" cy="282.86" r="5.55"/>
<circle cx="1357.92" cy="282.86" r="5.55"/>
<circle cx="1364.18" cy="282.86" r="5.55"/>
<circle cx="1370.43" cy="282.86" r="5.55"/>
<circle cx="1376.69" cy="282.86" r="5.55"/>
<circle cx="1382.94" cy="282.86" r="5.55"/>
<circle cx="1389.19" cy="282.86" r="5.55"/>
<circle cx="1395.45" cy="282.86" r="5.55"/>
<circle cx="1435.06" cy="282.86" r="5.55"/>
<circle cx="1443.39" cy="282.86" r="5.55"/>
<circle cx="1503.43" cy="282.86" r="5.55"/>
<circle cx="1320.4" cy="306.25" r="5.55"/>
<circle cx="1327.18" cy="306.25" r="5.55"/>
<circle cx="1333.95" cy="306.25" r="5.55"/>
<circle cx="1357.92" cy="306.25" r="5.55"/>
<circle cx="1364.18" cy="306.25" r="5.55"/>
<circle cx="1370.43" cy="306.25" r="5.55"/>
<circle cx="1376.69" cy="306.25" r="5.55"/>
<circle cx="1382.94" cy="306.25" r="5.55"/>
<circle cx="1389.19" cy="306.25" r="5.55"/>
<circle cx="1395.45" cy="306.25" r="5.55"/>
<circle cx="1401.7" cy="306.25" r="5.55"/>
<circle cx="1429.84" cy="306.25" r="5.55"/>
<circle cx="1437.14" cy="306.25" r="5.55"/>
<circle cx="1477.79" cy="306.25" r="5.55"/>
<circle cx="1244.73" cy="329.63" r="5.55"/>
<circle cx="1334.99" cy="329.63" r="5.55"/>
<circle cx="1340.85" cy="329.63" r="5.55"/>
<circle cx="1346.7" cy="329.63" r="5.55"/>
<circle cx="1352.55" cy="329.63" r="5.55"/>
<circle cx="1358.41" cy="329.63" r="5.55"/>
<circle cx="1364.26" cy="329.63" r="5.55"/>
<circle cx="1370.11" cy="329.63" r="5.55"/>
<circle cx="1375.96" cy="329.63" r="5.55"/>
<circle cx="1381.82" cy="329.63" r="5.55"/>
<circle cx="1387.67" cy="329.63" r="5.55"/>
<circle cx="1393.52" cy="329.63" r="5.55"/>
<circle cx="1399.38" cy="329.63" r="5.55"/>
<circle cx="1405.23" cy="329.63" r="5.55"/>
<circle cx="1411.08" cy="329.63" r="5.55"/>
<circle cx="1451.73" cy="329.63" r="5.55"/>
<circle cx="1458.2" cy="329.63" r="5.55"/>
<circle cx="1464.66" cy="329.63" r="5.55"/>
<circle cx="1269.54" cy="353.02" r="5.55"/>
<circle cx="1290.17" cy="353.02" r="5.55"/>
<circle cx="1296.28" cy="353.02" r="5.55"/>
<circle cx="1302.38" cy="353.02" r="5.55"/>
<circle cx="1308.49" cy="353.02" r="5.55"/>
<circle cx="1314.59" cy="353.02" r="5.55"/>
<circle cx="1320.7" cy="353.02" r="5.55"/>
<circle cx="1326.8" cy="353.02" r="5.55"/>
<circle cx="1332.91" cy="353.02" r="5.55"/>
<circle cx="1346.46" cy="353.02" r="5.55"/>
<circle cx="1358.97" cy="353.02" r="5.55"/>
<circle cx="1362.09" cy="353.02" r="5.55"/>
<circle cx="1376.69" cy="353.02" r="5.55"/>
<circle cx="1383.2" cy="353.02" r="5.55"/>
<circle cx="1389.72" cy="353.02" r="5.55"/>
<circle cx="1396.23" cy="353.02" r="5.55"/>
<circle cx="1402.74" cy="353.02" r="5.55"/>
<circle cx="1424.63" cy="353.02" r="5.55"/>
<circle cx="1430.05" cy="353.02" r="5.55"/>
<circle cx="1435.47" cy="353.02" r="5.55"/>
<circle cx="1459.65" cy="353.02" r="5.55"/>
<circle cx="1222.42" cy="376.4" r="5.55"/>
<circle cx="1291.22" cy="376.4" r="5.55"/>
<circle cx="1322.49" cy="376.4" r="5.55"/>
<circle cx="1336.04" cy="376.4" r="5.55"/>
<circle cx="1341.9" cy="376.4" r="5.55"/>
<circle cx="1347.76" cy="376.4" r="5.55"/>
<circle cx="1353.62" cy="376.4" r="5.55"/>
<circle cx="1359.49" cy="376.4" r="5.55"/>
<circle cx="1365.35" cy="376.4" r="5.55"/>
<circle cx="1371.21" cy="376.4" r="5.55"/>
<circle cx="1377.08" cy="376.4" r="5.55"/>
<circle cx="1382.94" cy="376.4" r="5.55"/>
<circle cx="1388.8" cy="376.4" r="5.55"/>
<circle cx="1394.67" cy="376.4" r="5.55"/>
<circle cx="1400.53" cy="376.4" r="5.55"/>
<circle cx="1406.39" cy="376.4" r="5.55"/>
<circle cx="1412.26" cy="376.4" r="5.55"/>
<circle cx="1418.12" cy="376.4" r="5.55"/>
<circle cx="1423.98" cy="376.4" r="5.55"/>
<circle cx="1429.84" cy="376.4" r="5.55"/>
<circle cx="1463.82" cy="376.4" r="5.55"/>
<circle cx="1471.54" cy="376.4" r="5.55"/>
<circle cx="1244.31" cy="399.79" r="5.55"/>
<circle cx="1260.99" cy="399.79" r="5.55"/>
<circle cx="1264.12" cy="399.79" r="5.55"/>
<circle cx="1275.58" cy="399.79" r="5.55"/>
<circle cx="1281.57" cy="399.79" r="5.55"/>
<circle cx="1287.55" cy="399.79" r="5.55"/>
<circle cx="1293.53" cy="399.79" r="5.55"/>
<circle cx="1299.52" cy="399.79" r="5.55"/>
<circle cx="1305.5" cy="399.79" r="5.55"/>
<circle cx="1311.48" cy="399.79" r="5.55"/>
<circle cx="1317.47" cy="399.79" r="5.55"/>
<circle cx="1323.45" cy="399.79" r="5.55"/>
<circle cx="1329.43" cy="399.79" r="5.55"/>
<circle cx="1335.42" cy="399.79" r="5.55"/>
<circle cx="1341.4" cy="399.79" r="5.55"/>
<circle cx="1347.39" cy="399.79" r="5.55"/>
<circle cx="1353.37" cy="399.79" r="5.55"/>
<circle cx="1359.35" cy="399.79" r="5.55"/>
<circle cx="1365.34" cy="399.79" r="5.55"/>
<circle cx="1371.32" cy="399.79" r="5.55"/>
<circle cx="1377.3" cy="399.79" r="5.55"/>
<circle cx="1383.29" cy="399.79" r="5.55"/>
<circle cx="1389.27" cy="399.79" r="5.55"/>
<circle cx="1395.25" cy="399.79" r="5.55"/>
<circle cx="1401.24" cy="399.79" r="5.55"/>
<circle cx="1407.22" cy="399.79" r="5.55"/>
<circle cx="1413.21" cy="399.79" r="5.55"/>
<circle cx="1419.19" cy="399.79" r="5.55"/>
<circle cx="1425.17" cy="399.79" r="5.55"/>
<circle cx="1431.16" cy="399.79" r="5.55"/>
<circle cx="1437.14" cy="399.79" r="5.55"/>
<circle cx="1449.65" cy="399.79" r="5.55"/>
<circle cx="1474.04" cy="399.79" r="5.55"/>
<circle cx="1507.6" cy="399.79" r="5.55"/>
</g>
<path d="M1222.2,356.6 L1229.34,355.46 L1236.48,354.31 L1243.62,353.15 L1250.76,351.99 L1257.9,350.81 L1265.04,349.62 L1272.18,348.41 L1279.32,347.19 L1286.46,345.95 L1293.6,344.67 L1300.74,343.37 L1307.88,342.02 L1315.02,340.63 L1322.16,339.17 L1329.3,337.63 L1336.44,335.99 L1343.58,334.22 L1350.72,332.3 L1357.86,330.2 L1365,327.89 L1372.14,325.37 L1379.28,322.64 L1386.42,319.71 L1393.56,316.62 L1400.7,313.38 L1407.84,310.03 L1414.98,306.59 L1422.12,303.08 L1429.26,299.51 L1436.4,295.89 L1443.54,292.24 L1450.68,288.56 L1457.82,284.85 L1464.96,281.13 L1472.1,277.38 L1479.24,273.63 L1486.38,269.86 L1493.52,266.08 L1500.66,262.29 L1507.8,258.5 L1507.8,316.5 L1500.66,317.65 L1493.52,318.8 L1486.38,319.96 L1479.24,321.13 L1472.1,322.32 L1464.96,323.51 L1457.82,324.73 L1450.68,325.96 L1443.54,327.22 L1436.4,328.51 L1429.26,329.83 L1422.12,331.2 L1414.98,332.63 L1407.84,334.13 L1400.7,335.72 L1393.56,337.42 L1386.42,339.27 L1379.28,341.28 L1372.14,343.49 L1365,345.91 L1357.86,348.54 L1350.72,351.38 L1343.58,354.4 L1336.44,357.57 L1329.3,360.87 L1322.16,364.27 L1315.02,367.75 L1307.88,371.3 L1300.74,374.89 L1293.6,378.53 L1286.46,382.19 L1279.32,385.89 L1272.18,389.61 L1265.04,393.34 L1257.9,397.09 L1250.76,400.85 L1243.62,404.63 L1236.48,408.41 L1229.34,412.2 L1222.2,416 Z" fill="rgb(205,50,10)" fill-opacity="0.17"/>
<line x1="1222.2" y1="386.3" x2="1507.8" y2="287.5" stroke="#a51432" stroke-width="6.4"/>
<path d="M1208,31.2 V417.7 H1522.6" fill="none" stroke="#383838" stroke-width="1.5"/>
<line x1="1218.2" y1="417.7" x2="1218.2" y2="422.2" stroke="#383838" stroke-width="1.4"/>
<text x="1218.2" y="453.4" text-anchor="middle" font-size="23">-3</text>
<line x1="1367.75" y1="417.7" x2="1367.75" y2="422.2" stroke="#383838" stroke-width="1.4"/>
<text x="1367.75" y="453.4" text-anchor="middle" font-size="23">0</text>
<line x1="1517.3" y1="417.7" x2="1517.3" y2="422.2" stroke="#383838" stroke-width="1.4"/>
<text x="1517.3" y="453.4" text-anchor="middle" font-size="23">3</text>
<line x1="1203.5" y1="376.4" x2="1208" y2="376.4" stroke="#383838" stroke-width="1.4"/>
<text x="1194.9" y="386.1" text-anchor="end" font-size="23">4</text>
<line x1="1203.5" y1="329.63" x2="1208" y2="329.63" stroke="#383838" stroke-width="1.4"/>
<text x="1194.9" y="339.33" text-anchor="end" font-size="23">6</text>
<line x1="1203.5" y1="282.86" x2="1208" y2="282.86" stroke="#383838" stroke-width="1.4"/>
<text x="1194.9" y="292.56" text-anchor="end" font-size="23">8</text>
<line x1="1203.5" y1="236.09" x2="1208" y2="236.09" stroke="#383838" stroke-width="1.4"/>
<text x="1194.9" y="245.79" text-anchor="end" font-size="23">10</text>
<line x1="1203.5" y1="189.32" x2="1208" y2="189.32" stroke="#383838" stroke-width="1.4"/>
<text x="1194.9" y="199.02" text-anchor="end" font-size="23">12</text>
<line x1="1203.5" y1="142.54" x2="1208" y2="142.54" stroke="#383838" stroke-width="1.4"/>
<text x="1194.9" y="152.24" text-anchor="end" font-size="23">14</text>
<line x1="1203.5" y1="95.77" x2="1208" y2="95.77" stroke="#383838" stroke-width="1.4"/>
<text x="1194.9" y="105.47" text-anchor="end" font-size="23">16</text>
<line x1="1203.5" y1="49" x2="1208" y2="49" stroke="#383838" stroke-width="1.4"/>
<text x="1194.9" y="58.7" text-anchor="end" font-size="23">18</text>
<text transform="translate(1144.8,224.8) rotate(-90)" text-anchor="middle" font-size="35.5">VAX-profit</text>
<line x1="1217.4" y1="495.5" x2="1217.4" y2="871.3" stroke="#ebebeb" stroke-width="1.7"/>
<line x1="1371.75" y1="495.5" x2="1371.75" y2="871.3" stroke="#ebebeb" stroke-width="1.7"/>
<line x1="1526.1" y1="495.5" x2="1526.1" y2="871.3" stroke="#ebebeb" stroke-width="1.7"/>
<g fill="#2077b4" stroke="#1a66a0" stroke-width="0.6">
<circle cx="1343.33" cy="513.1" r="5.55"/>
<circle cx="1403.16" cy="513.1" r="5.55"/>
<circle cx="1511.77" cy="513.1" r="5.55"/>
<circle cx="1403.79" cy="558.56" r="5.55"/>
<circle cx="1454.44" cy="558.56" r="5.55"/>
<circle cx="1339.37" cy="581.29" r="5.55"/>
<circle cx="1365.64" cy="581.29" r="5.55"/>
<circle cx="1374.18" cy="581.29" r="5.55"/>
<circle cx="1415.67" cy="581.29" r="5.55"/>
<circle cx="1428.8" cy="581.29" r="5.55"/>
<circle cx="1444.44" cy="581.29" r="5.55"/>
<circle cx="1249.52" cy="604.02" r="5.55"/>
<circle cx="1322.9" cy="604.02" r="5.55"/>
<circle cx="1334.99" cy="604.02" r="5.55"/>
<circle cx="1339.16" cy="604.02" r="5.55"/>
<circle cx="1401.08" cy="604.02" r="5.55"/>
<circle cx="1481.96" cy="604.02" r="5.55"/>
<circle cx="1309.56" cy="626.75" r="5.55"/>
<circle cx="1313.73" cy="626.75" r="5.55"/>
<circle cx="1389.4" cy="626.75" r="5.55"/>
<circle cx="1424.63" cy="626.75" r="5.55"/>
<circle cx="1326.65" cy="649.48" r="5.55"/>
<circle cx="1350.63" cy="649.48" r="5.55"/>
<circle cx="1356.67" cy="649.48" r="5.55"/>
<circle cx="1362.72" cy="649.48" r="5.55"/>
<circle cx="1368.76" cy="649.48" r="5.55"/>
<circle cx="1393.36" cy="649.48" r="5.55"/>
<circle cx="1406.91" cy="649.48" r="5.55"/>
<circle cx="1441.31" cy="649.48" r="5.55"/>
<circle cx="1275.37" cy="672.21" r="5.55"/>
<circle cx="1320.82" cy="672.21" r="5.55"/>
<circle cx="1351.25" cy="672.21" r="5.55"/>
<circle cx="1361.68" cy="672.21" r="5.55"/>
<circle cx="1367.03" cy="672.21" r="5.55"/>
<circle cx="1372.38" cy="672.21" r="5.55"/>
<circle cx="1377.73" cy="672.21" r="5.55"/>
<circle cx="1417.34" cy="672.21" r="5.55"/>
<circle cx="1431.51" cy="672.21" r="5.55"/>
<circle cx="1444.44" cy="672.21" r="5.55"/>
<circle cx="1301.64" cy="694.94" r="5.55"/>
<circle cx="1314.15" cy="694.94" r="5.55"/>
<circle cx="1318.84" cy="694.94" r="5.55"/>
<circle cx="1323.53" cy="694.94" r="5.55"/>
<circle cx="1337.08" cy="694.94" r="5.55"/>
<circle cx="1351.25" cy="694.94" r="5.55"/>
<circle cx="1375.64" cy="694.94" r="5.55"/>
<circle cx="1395.45" cy="694.94" r="5.55"/>
<circle cx="1398.57" cy="694.94" r="5.55"/>
<circle cx="1435.47" cy="694.94" r="5.55"/>
<circle cx="1453.19" cy="694.94" r="5.55"/>
<circle cx="1264.12" cy="717.67" r="5.55"/>
<circle cx="1284.96" cy="717.67" r="5.55"/>
<circle cx="1318.32" cy="717.67" r="5.55"/>
<circle cx="1324.57" cy="717.67" r="5.55"/>
<circle cx="1330.82" cy="717.67" r="5.55"/>
<circle cx="1360.01" cy="717.67" r="5.55"/>
<circle cx="1366.26" cy="717.67" r="5.55"/>
<circle cx="1372.52" cy="717.67" r="5.55"/>
<circle cx="1378.77" cy="717.67" r="5.55"/>
<circle cx="1385.02" cy="717.67" r="5.55"/>
<circle cx="1391.28" cy="717.67" r="5.55"/>
<circle cx="1397.53" cy="717.67" r="5.55"/>
<circle cx="1403.79" cy="717.67" r="5.55"/>
<circle cx="1410.04" cy="717.67" r="5.55"/>
<circle cx="1416.29" cy="717.67" r="5.55"/>
<circle cx="1435.06" cy="717.67" r="5.55"/>
<circle cx="1442.35" cy="717.67" r="5.55"/>
<circle cx="1449.65" cy="717.67" r="5.55"/>
<circle cx="1321.44" cy="740.4" r="5.55"/>
<circle cx="1327.7" cy="740.4" r="5.55"/>
<circle cx="1333.95" cy="740.4" r="5.55"/>
<circle cx="1340.21" cy="740.4" r="5.55"/>
<circle cx="1354.8" cy="740.4" r="5.55"/>
<circle cx="1360.79" cy="740.4" r="5.55"/>
<circle cx="1366.78" cy="740.4" r="5.55"/>
<circle cx="1372.78" cy="740.4" r="5.55"/>
<circle cx="1378.77" cy="740.4" r="5.55"/>
<circle cx="1384.76" cy="740.4" r="5.55"/>
<circle cx="1390.76" cy="740.4" r="5.55"/>
<circle cx="1396.75" cy="740.4" r="5.55"/>
<circle cx="1402.74" cy="740.4" r="5.55"/>
<circle cx="1433.6" cy="740.4" r="5.55"/>
<circle cx="1476.33" cy="740.4" r="5.55"/>
<circle cx="1265.16" cy="763.13" r="5.55"/>
<circle cx="1308.94" cy="763.13" r="5.55"/>
<circle cx="1312.06" cy="763.13" r="5.55"/>
<circle cx="1340.21" cy="763.13" r="5.55"/>
<circle cx="1344.9" cy="763.13" r="5.55"/>
<circle cx="1349.59" cy="763.13" r="5.55"/>
<circle cx="1357.92" cy="763.13" r="5.55"/>
<circle cx="1373.56" cy="763.13" r="5.55"/>
<circle cx="1380.86" cy="763.13" r="5.55"/>
<circle cx="1398.57" cy="763.13" r="5.55"/>
<circle cx="1404.57" cy="763.13" r="5.55"/>
<circle cx="1410.56" cy="763.13" r="5.55"/>
<circle cx="1416.55" cy="763.13" r="5.55"/>
<circle cx="1422.55" cy="763.13" r="5.55"/>
<circle cx="1439.23" cy="763.13" r="5.55"/>
<circle cx="1443.39" cy="763.13" r="5.55"/>
<circle cx="1457.99" cy="763.13" r="5.55"/>
<circle cx="1478.42" cy="763.13" r="5.55"/>
<circle cx="1511.15" cy="763.13" r="5.55"/>
<circle cx="1270.37" cy="785.86" r="5.55"/>
<circle cx="1292.88" cy="785.86" r="5.55"/>
<circle cx="1308.94" cy="785.86" r="5.55"/>
<circle cx="1317.27" cy="785.86" r="5.55"/>
<circle cx="1334.99" cy="785.86" r="5.55"/>
<circle cx="1341.25" cy="785.86" r="5.55"/>
<circle cx="1347.5" cy="785.86" r="5.55"/>
<circle cx="1353.76" cy="785.86" r="5.55"/>
<circle cx="1360.01" cy="785.86" r="5.55"/>
<circle cx="1366.26" cy="785.86" r="5.55"/>
<circle cx="1372.52" cy="785.86" r="5.55"/>
<circle cx="1378.77" cy="785.86" r="5.55"/>
<circle cx="1390.24" cy="785.86" r="5.55"/>
<circle cx="1402.74" cy="785.86" r="5.55"/>
<circle cx="1409.35" cy="785.86" r="5.55"/>
<circle cx="1415.95" cy="785.86" r="5.55"/>
<circle cx="1422.55" cy="785.86" r="5.55"/>
<circle cx="1432.97" cy="785.86" r="5.55"/>
<circle cx="1439.23" cy="785.86" r="5.55"/>
<circle cx="1445.48" cy="785.86" r="5.55"/>
<circle cx="1467.37" cy="785.86" r="5.55"/>
<circle cx="1474.14" cy="785.86" r="5.55"/>
<circle cx="1480.92" cy="785.86" r="5.55"/>
<circle cx="1301.64" cy="808.59" r="5.55"/>
<circle cx="1331.87" cy="808.59" r="5.55"/>
<circle cx="1338.24" cy="808.59" r="5.55"/>
<circle cx="1344.61" cy="808.59" r="5.55"/>
<circle cx="1350.98" cy="808.59" r="5.55"/>
<circle cx="1357.35" cy="808.59" r="5.55"/>
<circle cx="1363.72" cy="808.59" r="5.55"/>
<circle cx="1370.08" cy="808.59" r="5.55"/>
<circle cx="1376.45" cy="808.59" r="5.55"/>
<circle cx="1382.82" cy="808.59" r="5.55"/>
<circle cx="1389.19" cy="808.59" r="5.55"/>
<circle cx="1404.83" cy="808.59" r="5.55"/>
<circle cx="1411.08" cy="808.59" r="5.55"/>
<circle cx="1417.34" cy="808.59" r="5.55"/>
<circle cx="1423.59" cy="808.59" r="5.55"/>
<circle cx="1429.84" cy="808.59" r="5.55"/>
<circle cx="1282.88" cy="831.32" r="5.55"/>
<circle cx="1287.05" cy="831.32" r="5.55"/>
<circle cx="1329.78" cy="831.32" r="5.55"/>
<circle cx="1336.18" cy="831.32" r="5.55"/>
<circle cx="1342.59" cy="831.32" r="5.55"/>
<circle cx="1348.99" cy="831.32" r="5.55"/>
<circle cx="1355.39" cy="831.32" r="5.55"/>
<circle cx="1361.8" cy="831.32" r="5.55"/>
<circle cx="1368.2" cy="831.32" r="5.55"/>
<circle cx="1374.6" cy="831.32" r="5.55"/>
<circle cx="1388.15" cy="831.32" r="5.55"/>
<circle cx="1394.41" cy="831.32" r="5.55"/>
<circle cx="1400.66" cy="831.32" r="5.55"/>
<circle cx="1417.34" cy="831.32" r="5.55"/>
<circle cx="1429.84" cy="831.32" r="5.55"/>
<circle cx="1432.97" cy="831.32" r="5.55"/>
<circle cx="1221.38" cy="854.05" r="5.55"/>
<circle cx="1244.31" cy="854.05" r="5.55"/>
<circle cx="1260.36" cy="854.05" r="5.55"/>
<circle cx="1277.67" cy="854.05" r="5.55"/>
<circle cx="1283.92" cy="854.05" r="5.55"/>
<circle cx="1290.17" cy="854.05" r="5.55"/>
<circle cx="1296.43" cy="854.05" r="5.55"/>
<circle cx="1302.68" cy="854.05" r="5.55"/>
<circle cx="1308.94" cy="854.05" r="5.55"/>
<circle cx="1325.61" cy="854.05" r="5.55"/>
<circle cx="1331.67" cy="854.05" r="5.55"/>
<circle cx="1337.73" cy="854.05" r="5.55"/>
<circle cx="1343.79" cy="854.05" r="5.55"/>
<circle cx="1349.85" cy="854.05" r="5.55"/>
<circle cx="1355.91" cy="854.05" r="5.55"/>
<circle cx="1361.96" cy="854.05" r="5.55"/>
<circle cx="1368.02" cy="854.05" r="5.55"/>
<circle cx="1374.08" cy="854.05" r="5.55"/>
<circle cx="1380.14" cy="854.05" r="5.55"/>
<circle cx="1386.2" cy="854.05" r="5.55"/>
<circle cx="1392.26" cy="854.05" r="5.55"/>
<circle cx="1398.31" cy="854.05" r="5.55"/>
<circle cx="1404.37" cy="854.05" r="5.55"/>
<circle cx="1410.43" cy="854.05" r="5.55"/>
<circle cx="1416.49" cy="854.05" r="5.55"/>
<circle cx="1422.55" cy="854.05" r="5.55"/>
<circle cx="1456.32" cy="854.05" r="5.55"/>
<circle cx="1470.49" cy="854.05" r="5.55"/>
<circle cx="1477.27" cy="854.05" r="5.55"/>
<circle cx="1484.05" cy="854.05" r="5.55"/>
<circle cx="1515.73" cy="854.05" r="5.55"/>
</g>
<path d="M1221.9,767.7 L1229.25,767.61 L1236.6,767.51 L1243.94,767.4 L1251.29,767.28 L1258.64,767.16 L1265.99,767.01 L1273.33,766.86 L1280.68,766.68 L1288.03,766.48 L1295.38,766.25 L1302.72,765.99 L1310.07,765.69 L1317.42,765.33 L1324.77,764.9 L1332.11,764.4 L1339.46,763.78 L1346.81,763.04 L1354.15,762.13 L1361.5,761.04 L1368.85,759.75 L1376.2,758.24 L1383.55,756.53 L1390.89,754.63 L1398.24,752.58 L1405.59,750.38 L1412.93,748.09 L1420.28,745.7 L1427.63,743.25 L1434.98,740.74 L1442.33,738.19 L1449.67,735.61 L1457.02,732.99 L1464.37,730.36 L1471.71,727.7 L1479.06,725.03 L1486.41,722.34 L1493.76,719.64 L1501.11,716.94 L1508.45,714.22 L1515.8,711.5 L1515.8,769.7 L1508.45,769.79 L1501.11,769.89 L1493.76,770 L1486.41,770.12 L1479.06,770.25 L1471.71,770.39 L1464.37,770.55 L1457.02,770.73 L1449.67,770.93 L1442.33,771.16 L1434.98,771.42 L1427.63,771.73 L1420.28,772.09 L1412.93,772.52 L1405.59,773.04 L1398.24,773.66 L1390.89,774.42 L1383.55,775.34 L1376.2,776.44 L1368.85,777.75 L1361.5,779.27 L1354.15,781 L1346.81,782.91 L1339.46,784.98 L1332.11,787.18 L1324.77,789.49 L1317.42,791.88 L1310.07,794.33 L1302.72,796.84 L1295.38,799.4 L1288.03,801.98 L1280.68,804.6 L1273.33,807.24 L1265.99,809.9 L1258.64,812.57 L1251.29,815.26 L1243.94,817.95 L1236.6,820.66 L1229.25,823.38 L1221.9,826.1 Z" fill="rgb(205,50,10)" fill-opacity="0.17"/>
<line x1="1221.9" y1="796.9" x2="1515.8" y2="740.6" stroke="#a51432" stroke-width="6.4"/>
<path d="M1207.3,495.5 V871.3 H1530.9" fill="none" stroke="#383838" stroke-width="1.5"/>
<line x1="1217.4" y1="871.3" x2="1217.4" y2="875.8" stroke="#383838" stroke-width="1.4"/>
<text x="1217.4" y="907.5" text-anchor="middle" font-size="23">-3</text>
<line x1="1371.75" y1="871.3" x2="1371.75" y2="875.8" stroke="#383838" stroke-width="1.4"/>
<text x="1371.75" y="907.5" text-anchor="middle" font-size="23">0</text>
<line x1="1526.1" y1="871.3" x2="1526.1" y2="875.8" stroke="#383838" stroke-width="1.4"/>
<text x="1526.1" y="907.5" text-anchor="middle" font-size="23">3</text>
<line x1="1202.8" y1="831.32" x2="1207.3" y2="831.32" stroke="#383838" stroke-width="1.4"/>
<text x="1194.2" y="841.02" text-anchor="end" font-size="23">4</text>
<line x1="1202.8" y1="785.86" x2="1207.3" y2="785.86" stroke="#383838" stroke-width="1.4"/>
<text x="1194.2" y="795.56" text-anchor="end" font-size="23">6</text>
<line x1="1202.8" y1="740.4" x2="1207.3" y2="740.4" stroke="#383838" stroke-width="1.4"/>
<text x="1194.2" y="750.1" text-anchor="end" font-size="23">8</text>
<line x1="1202.8" y1="694.94" x2="1207.3" y2="694.94" stroke="#383838" stroke-width="1.4"/>
<text x="1194.2" y="704.64" text-anchor="end" font-size="23">10</text>
<line x1="1202.8" y1="649.48" x2="1207.3" y2="649.48" stroke="#383838" stroke-width="1.4"/>
<text x="1194.2" y="659.18" text-anchor="end" font-size="23">12</text>
<line x1="1202.8" y1="604.02" x2="1207.3" y2="604.02" stroke="#383838" stroke-width="1.4"/>
<text x="1194.2" y="613.72" text-anchor="end" font-size="23">14</text>
<line x1="1202.8" y1="558.56" x2="1207.3" y2="558.56" stroke="#383838" stroke-width="1.4"/>
<text x="1194.2" y="568.26" text-anchor="end" font-size="23">16</text>
<line x1="1202.8" y1="513.1" x2="1207.3" y2="513.1" stroke="#383838" stroke-width="1.4"/>
<text x="1194.2" y="522.8" text-anchor="end" font-size="23">18</text>
<text transform="translate(1144.7,684) rotate(-90)" text-anchor="middle" font-size="36">VAX-natur</text>
<text x="811.3" y="969.3" text-anchor="middle" font-size="35">Continuum Factor (PCA 2)</text>
</g>
</svg>
</body></html>
